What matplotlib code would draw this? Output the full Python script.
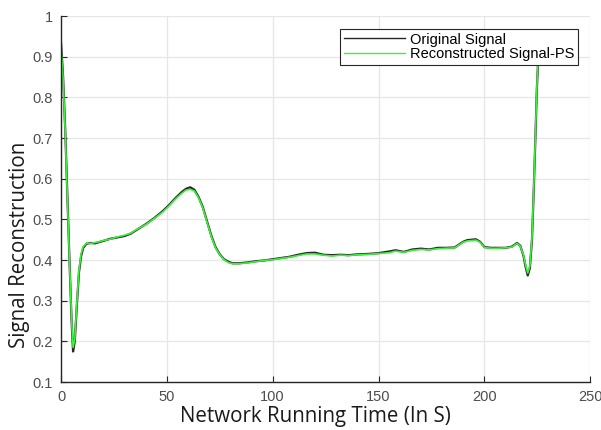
import numpy as np
import matplotlib.pyplot as plt

plt.rcParams['font.family'] = ['Liberation Sans', 'DejaVu Sans']

# tiempo de ejecucion de la red (s)
t = [0, 1, 2, 3, 4, 5, 5.7, 6.5, 7.5, 8.5, 9.5, 10.5, 12, 14, 16, 18, 20, 23, 26,
     30, 33, 36, 40, 44, 48, 51, 54, 57, 59, 61, 63, 65, 67, 69, 71, 73, 75, 77,
     79, 81, 84, 88, 92, 96, 100, 104, 108, 112, 116, 120, 124, 128, 132, 136,
     140, 145, 150, 155, 158, 162, 166, 170, 174, 178, 182, 186, 188, 190, 192,
     194, 196, 198, 200, 203, 206, 210, 213, 215.5, 217, 218.5, 219.5, 220.5,
     221.5, 222.5, 223.2, 224, 224.8, 225.5, 226.3]

# senal original
original = [0.935, 0.85, 0.72, 0.56, 0.40, 0.25, 0.175, 0.20, 0.29, 0.37, 0.41,
            0.43, 0.44, 0.442, 0.441, 0.444, 0.447, 0.452, 0.455, 0.459, 0.465,
            0.475, 0.488, 0.503, 0.52, 0.535, 0.552, 0.567, 0.575, 0.579, 0.573,
            0.555, 0.53, 0.495, 0.46, 0.432, 0.414, 0.402, 0.396, 0.392, 0.392,
            0.394, 0.397, 0.399, 0.402, 0.405, 0.408, 0.413, 0.417, 0.418, 0.413,
            0.412, 0.413, 0.412, 0.414, 0.415, 0.417, 0.421, 0.424, 0.42, 0.426,
            0.428, 0.426, 0.43, 0.43, 0.431, 0.438, 0.445, 0.449, 0.45, 0.451,
            0.445, 0.432, 0.43, 0.43, 0.43, 0.433, 0.442, 0.435, 0.41, 0.383,
            0.362, 0.38, 0.45, 0.55, 0.68, 0.82, 0.9, 0.95]

# senal reconstruida (PS)
reconstruida = [0.925, 0.845, 0.715, 0.555, 0.40, 0.255, 0.185, 0.205, 0.295,
                0.375, 0.415, 0.433, 0.441, 0.441, 0.443, 0.445, 0.448, 0.451,
                0.456, 0.461, 0.466, 0.476, 0.487, 0.502, 0.518, 0.533, 0.55,
                0.564, 0.572, 0.574, 0.57, 0.553, 0.528, 0.493, 0.458, 0.43,
                0.413, 0.401, 0.394, 0.391, 0.391, 0.393, 0.396, 0.399, 0.401,
                0.404, 0.407, 0.411, 0.415, 0.415, 0.412, 0.41, 0.412, 0.411,
                0.413, 0.414, 0.416, 0.418, 0.422, 0.419, 0.424, 0.426, 0.425,
                0.428, 0.429, 0.43, 0.437, 0.444, 0.447, 0.448, 0.449, 0.444,
                0.431, 0.429, 0.429, 0.43, 0.432, 0.441, 0.434, 0.412, 0.387,
                0.368, 0.385, 0.455, 0.555, 0.685, 0.825, 0.905, 0.955]

xticks = [0, 50, 100, 150, 200, 250]
yticks = [0.1, 0.2, 0.3, 0.4, 0.5, 0.6, 0.7, 0.8, 0.9, 1]

fig = plt.figure(figsize=(6.01, 4.30), dpi=100)
ax = fig.add_axes([0.1015, 0.1116, 0.8805, 0.851])

ax.plot(t, original, color='#262626', lw=1.6, label='Original Signal')
ax.plot(t, reconstruida, color='#3cf03c', lw=1.2, label='Reconstructed Signal-PS')

ax.set_xlim(0, 250)
ax.set_ylim(0.1, 1)
ax.set_xticks(xticks)
ax.set_yticks(yticks)
ax.set_yticklabels([f'{v:g}' for v in yticks])
ax.grid(True, color='#e6e6e6', lw=0.9)
ax.set_axisbelow(True)

for s in ['top', 'right']:
    ax.spines[s].set_visible(False)
for s in ['left', 'bottom']:
    ax.spines[s].set_color('#262626')
    ax.spines[s].set_linewidth(1.0)

ax.tick_params(direction='in', length=4, colors='#262626', labelcolor='#4d4d4d',
               labelsize=10.5, pad=6)

fuente = ['Open Sans', 'DejaVu Sans']
ax.set_xlabel('Network Running Time (In S)', fontsize=14.8, color='#1a1a1a',
              labelpad=4, family=fuente)
ax.set_ylabel('Signal Reconstruction', fontsize=14.8, color='#1a1a1a',
              labelpad=0, family=fuente)
ax.xaxis.set_label_coords(0.48, -0.065, transform=ax.transAxes)
ax.xaxis.label.set_va('top')
ax.yaxis.set_label_coords(-0.058, 0.374, transform=ax.transAxes)

leg = ax.legend(loc='upper right', bbox_to_anchor=(0.99, 0.985), fontsize=10.5,
                frameon=True, fancybox=False, framealpha=1, handlelength=4.2,
                borderpad=0.25, labelspacing=0.05, handletextpad=0.3)
leg.get_frame().set_edgecolor('#262626')
leg.get_frame().set_linewidth(0.8)
for linea in leg.get_lines():
    linea.set_linewidth(1.0)

plt.savefig('out.png', dpi=100)
